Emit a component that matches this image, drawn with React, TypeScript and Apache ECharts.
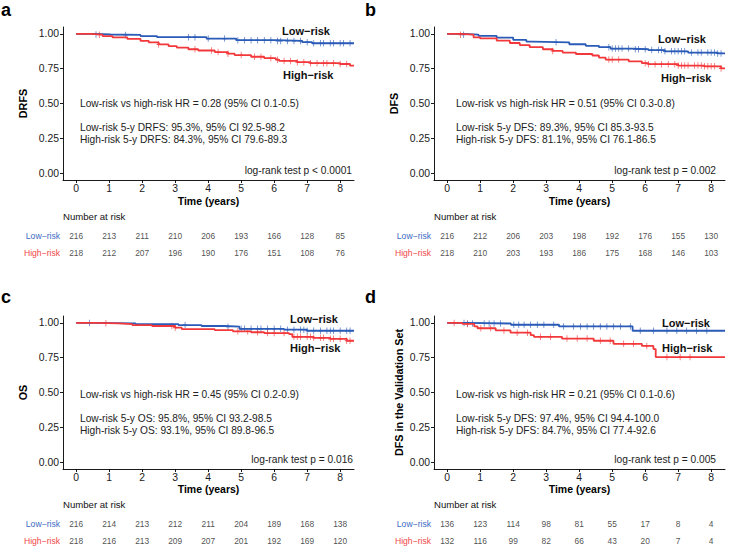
import React, { useEffect, useRef } from "react";
import * as echarts from "echarts";

const BLUE = "#2A5BB7";
const RED = "#F2383A";
const LOW = "Low−risk";
const HIGH = "High−risk";
const FONT = "'Liberation Sans', Arial, Helvetica, sans-serif";

const timeTicks = [0, 1, 2, 3, 4, 5, 6, 7, 8];
const yTicks = [0, 0.25, 0.5, 0.75, 1];

// Panel a (DRFS)
const aLowCurve = [[0, 1], [0.55, 0.996], [1.05, 0.993], [1.95, 0.985], [2.45, 0.977], [3.95, 0.967], [4.85, 0.955], [6.1, 0.95], [6.85, 0.941], [7.15, 0.933], [8.42, 0.933]];
const aHighCurve = [[0, 1], [0.45, 0.995], [0.8, 0.985], [1.1, 0.976], [1.55, 0.964], [1.95, 0.95], [2.2, 0.94], [2.5, 0.925], [2.8, 0.912], [3.05, 0.902], [3.4, 0.89], [3.7, 0.881], [4.2, 0.87], [4.6, 0.858], [4.8, 0.848], [5.3, 0.836], [5.7, 0.826], [6.05, 0.815], [6.15, 0.806], [6.7, 0.797], [7.1, 0.79], [8.0, 0.784], [8.3, 0.772], [8.42, 0.772]];
const aLowCensor = [0.6, 1.5, 3.4, 3.6, 4.0, 4.5, 4.9, 5.1, 5.3, 5.5, 5.7, 5.9, 6.1, 6.2, 6.4, 6.6, 6.8, 7.0, 7.2, 7.4, 7.5, 7.7, 7.8, 8.0, 8.1, 8.3];
const aHighCensor = [0.7, 2.5, 3.6, 4.1, 4.3, 4.6, 5.0, 5.4, 5.6, 5.9, 6.1, 6.3, 6.5, 6.7, 6.9, 7.1, 7.3, 7.5, 7.6, 7.8, 8.0, 8.2];
const aLowRisk = [216, 213, 211, 210, 206, 193, 166, 128, 85];
const aHighRisk = [218, 212, 207, 196, 190, 176, 151, 108, 76];

// Panel b (DFS)
const bLowCurve = [[0, 1], [0.5, 0.995], [0.95, 0.986], [1.5, 0.974], [2.0, 0.957], [2.4, 0.945], [2.6, 0.94], [3.7, 0.926], [4.2, 0.915], [4.6, 0.905], [4.95, 0.895], [5.6, 0.89], [6.1, 0.884], [6.6, 0.875], [7.3, 0.866], [8.2, 0.86], [8.42, 0.86]];
const bHighCurve = [[0, 1], [0.4, 0.995], [0.8, 0.975], [1.0, 0.968], [1.5, 0.952], [1.9, 0.935], [2.2, 0.92], [2.5, 0.905], [2.9, 0.89], [3.2, 0.878], [3.5, 0.866], [3.9, 0.856], [4.4, 0.845], [4.6, 0.83], [4.8, 0.816], [5.5, 0.803], [5.9, 0.79], [6.1, 0.783], [7.0, 0.773], [7.8, 0.767], [8.3, 0.752], [8.42, 0.752]];
const bLowCensor = [0.5, 3.3, 4.9, 5.0, 5.1, 5.2, 5.3, 5.5, 5.7, 5.8, 6.0, 6.2, 6.4, 6.5, 6.6, 6.8, 6.9, 7.0, 7.1, 7.2, 7.4, 7.6, 7.7, 7.9, 8.0, 8.1, 8.2, 8.3];
const bHighCensor = [0.4, 3.2, 4.9, 5.0, 5.2, 6.0, 6.1, 6.3, 6.5, 6.7, 6.9, 7.0, 7.1, 7.2, 7.3, 7.5, 7.6, 7.7, 7.8, 7.9, 8.0, 8.1, 8.3];
const bLowRisk = [216, 212, 206, 203, 198, 192, 176, 155, 130];
const bHighRisk = [218, 210, 203, 193, 186, 175, 168, 146, 103];

// Panel c (OS)
const cLowCurve = [[0, 1], [0.5, 0.997], [1.8, 0.991], [3.1, 0.985], [3.8, 0.978], [4.5, 0.973], [4.95, 0.958], [6.3, 0.952], [7.0, 0.944], [8.42, 0.944]];
const cHighCurve = [[0, 1], [0.6, 0.997], [1.3, 0.992], [1.7, 0.985], [2.3, 0.978], [3.0, 0.966], [3.2, 0.955], [4.2, 0.948], [4.75, 0.94], [5.3, 0.933], [5.7, 0.927], [6.45, 0.92], [6.55, 0.9], [7.2, 0.893], [7.7, 0.886], [8.2, 0.872], [8.42, 0.872]];
const cLowCensor = [0.4, 3.3, 4.6, 5.0, 5.1, 5.3, 5.5, 5.6, 5.8, 6.0, 6.2, 6.4, 6.6, 6.8, 6.9, 7.0, 7.2, 7.4, 7.6, 7.7, 7.8, 8.0, 8.2, 8.3];
const cHighCensor = [0.9, 2.9, 3.0, 4.9, 5.2, 5.5, 5.8, 6.0, 6.3, 6.6, 6.7, 6.8, 7.0, 7.1, 7.2, 7.4, 7.5, 7.7, 7.8, 8.0, 8.2, 8.3];
const cLowRisk = [216, 214, 213, 212, 211, 204, 189, 168, 138];
const cHighRisk = [218, 216, 213, 209, 207, 201, 192, 169, 120];

// Panel d (DFS, validation set)
const dLowCurve = [[0, 1], [0.6, 0.996], [1.93, 0.987], [3.39, 0.975], [5.62, 0.944], [8.42, 0.944]];
const dHighCurve = [[0, 1], [0.46, 0.993], [0.82, 0.975], [0.92, 0.962], [1.47, 0.946], [1.92, 0.93], [2.53, 0.912], [2.63, 0.9], [3.48, 0.888], [4.44, 0.872], [5.04, 0.85], [5.9, 0.835], [6.25, 0.812], [6.32, 0.755], [8.42, 0.755]];
const dLowCensor = [0.51, 0.61, 0.77, 1.12, 1.27, 1.42, 1.62, 2.02, 2.17, 2.33, 2.53, 2.73, 2.93, 3.23, 3.53, 3.83, 4.04, 4.24, 4.44, 4.64, 4.84, 5.04, 5.25, 5.55, 5.85, 6.25, 6.66, 6.96, 7.26, 7.56, 7.87];
const dHighCensor = [0.21, 0.61, 1.02, 1.32, 1.72, 2.12, 2.43, 2.83, 3.13, 3.63, 3.94, 4.24, 4.64, 4.94, 5.35, 5.65, 6.05, 6.66, 7.06, 7.36];
const dLowRisk = [136, 123, 114, 98, 81, 55, 17, 8, 4];
const dHighRisk = [132, 116, 99, 82, 66, 43, 20, 7, 4];

const PLUS = "path://M-0.18,-1H0.18V-0.18H1V0.18H0.18V1H-0.18V0.18H-1V-0.18H-0.18Z";

function stepValue(curve: number[][], t: number) {
  let v = curve[0][1];
  for (const [x, y] of curve) {
    if (x <= t) v = y;
    else break;
  }
  return v;
}

const panels = [
  { left: 63, top: 27, tableTop: 227.5, yName: "DRFS", yGap: 35, low: aLowCurve, high: aHighCurve, lowC: aLowCensor, highC: aHighCensor, lowR: aLowRisk, highR: aHighRisk },
  { left: 434, top: 27, tableTop: 227.5, yName: "DFS", yGap: 35, low: bLowCurve, high: bHighCurve, lowC: bLowCensor, highC: bHighCensor, lowR: bLowRisk, highR: bHighRisk },
  { left: 63, top: 316, tableTop: 515.5, yName: "OS", yGap: 35, low: cLowCurve, high: cHighCurve, lowC: cLowCensor, highC: cHighCensor, lowR: cLowRisk, highR: cHighRisk },
  { left: 434, top: 316, tableTop: 515.5, yName: "DFS in the Validation Set", yGap: 30, low: dLowCurve, high: dHighCurve, lowC: dLowCensor, highC: dHighCensor, lowR: dLowRisk, highR: dHighRisk },
];

function txt(x: number, y: number, text: string, o: any = {}) {
  return {
    type: "text",
    x,
    y,
    silent: true,
    style: {
      text,
      fill: o.fill || "#222",
      fontSize: o.size || 10.2,
      fontWeight: o.bold ? "bold" : "normal",
      fontFamily: FONT,
      align: o.align || "left",
      textAlign: o.align || "left",
      verticalAlign: "middle",
      textVerticalAlign: "middle",
    },
  };
}

const annotations = [
  txt(1, 10, "a", { size: 18, bold: true, fill: "#000" }),
  txt(365, 10, "b", { size: 18, bold: true, fill: "#000" }),
  txt(1, 297, "c", { size: 18, bold: true, fill: "#000" }),
  txt(365, 297, "d", { size: 18, bold: true, fill: "#000" }),
  // a
  txt(80, 103, "Low-risk vs high-risk HR = 0.28 (95% CI 0.1-0.5)"),
  txt(80, 127, "Low-risk 5-y DRFS: 95.3%, 95% CI 92.5-98.2"),
  txt(80, 139, "High-risk 5-y DRFS: 84.3%, 95% CI 79.6-89.3"),
  txt(352, 170, "log-rank test p < 0.0001", { align: "right" }),
  txt(282, 31, LOW, { bold: true, size: 11, fill: "#111" }),
  txt(283, 75, HIGH, { bold: true, size: 11, fill: "#111" }),
  txt(63, 216, "Number at risk", { size: 9.6, fill: "#111" }),
  // b
  txt(456, 103, "Low-risk vs high-risk HR = 0.51 (95% CI 0.3-0.8)"),
  txt(456, 127, "Low-risk 5-y DFS: 89.3%, 95% CI 85.3-93.5"),
  txt(456, 139, "High-risk 5-y DFS: 81.1%, 95% CI 76.1-86.5"),
  txt(716, 170, "log-rank test p = 0.002", { align: "right" }),
  txt(658, 39, LOW, { bold: true, size: 11, fill: "#111" }),
  txt(661, 78, HIGH, { bold: true, size: 11, fill: "#111" }),
  txt(434, 216, "Number at risk", { size: 9.6, fill: "#111" }),
  // c
  txt(80, 394, "Low-risk vs high-risk HR = 0.45 (95% CI 0.2-0.9)"),
  txt(80, 418, "Low-risk 5-y OS: 95.8%, 95% CI 93.2-98.5"),
  txt(80, 430, "High-risk 5-y OS: 93.1%, 95% CI 89.8-96.5"),
  txt(353, 459, "log-rank test p = 0.016", { align: "right" }),
  txt(290, 319, LOW, { bold: true, size: 11, fill: "#111" }),
  txt(290, 348, HIGH, { bold: true, size: 11, fill: "#111" }),
  txt(63, 504, "Number at risk", { size: 9.6, fill: "#111" }),
  // d
  txt(456, 394, "Low-risk vs high-risk HR = 0.21 (95% CI 0.1-0.6)"),
  txt(456, 418, "Low-risk 5-y DFS: 97.4%, 95% CI 94.4-100.0"),
  txt(456, 430, "High-risk 5-y DFS: 84.7%, 95% CI 77.4-92.6"),
  txt(716, 459, "log-rank test p = 0.005", { align: "right" }),
  txt(662, 323, LOW, { bold: true, size: 11, fill: "#111" }),
  txt(662, 348, HIGH, { bold: true, size: 11, fill: "#111" }),
  txt(434, 504, "Number at risk", { size: 9.6, fill: "#111" }),
];

function buildOption() {
  const grid: any[] = [];
  const xAxis: any[] = [];
  const yAxis: any[] = [];
  const series: any[] = [];
  const axisLineStyle = { color: "#000", width: 0.9 };

  panels.forEach((p, i) => {
    grid.push({ left: p.left, top: p.top, width: 291, height: 153 });
    xAxis.push({
      gridIndex: i,
      type: "value",
      min: -0.4,
      max: 8.42,
      axisLine: { show: true, onZero: false, lineStyle: axisLineStyle },
      axisTick: { show: true, length: 3, customValues: timeTicks, lineStyle: axisLineStyle },
      axisLabel: { customValues: timeTicks, margin: 3, fontSize: 10.4, color: "#1a1a1a", fontFamily: FONT },
      splitLine: { show: false },
      name: "Time (years)",
      nameLocation: "middle",
      nameGap: i < 2 ? 15 : 14,
      nameTextStyle: { fontWeight: "bold", fontSize: 10.5, color: "#000", fontFamily: FONT },
    });
    yAxis.push({
      gridIndex: i,
      type: "value",
      min: -0.05,
      max: 1.05,
      axisLine: { show: true, onZero: false, lineStyle: axisLineStyle },
      axisTick: { show: true, length: 3, customValues: yTicks, lineStyle: axisLineStyle },
      axisLabel: { customValues: yTicks, margin: 4, fontSize: 10.4, color: "#1a1a1a", fontFamily: FONT, formatter: (v: number) => v.toFixed(2) },
      splitLine: { show: false },
      name: p.yName,
      nameLocation: "middle",
      nameGap: p.yGap,
      nameTextStyle: { fontWeight: "bold", fontSize: 10.8, color: "#000", fontFamily: FONT },
    });
    const mkLine = (data: number[][], color: string) => ({
      type: "line",
      xAxisIndex: i,
      yAxisIndex: i,
      data,
      step: "end",
      showSymbol: false,
      silent: true,
      lineStyle: { color, width: 1.8 },
      itemStyle: { color },
    });
    const mkCensor = (times: number[], curve: number[][], color: string) => ({
      type: "scatter",
      xAxisIndex: i,
      yAxisIndex: i,
      data: times.map((t) => [t, stepValue(curve, t)]),
      symbol: PLUS,
      symbolSize: [4, 6.5],
      silent: true,
      itemStyle: { color, opacity: 0.85 },
    });
    series.push(mkLine(p.low, BLUE), mkLine(p.high, RED), mkCensor(p.lowC, p.low, BLUE), mkCensor(p.highC, p.high, RED));
  });

  panels.forEach((p, i) => {
    const gi = 4 + i;
    grid.push({ left: p.left, top: p.tableTop, width: 291, height: 34 });
    xAxis.push({ gridIndex: gi, type: "value", min: -0.4, max: 8.42, show: false });
    yAxis.push({
      gridIndex: gi,
      type: "category",
      data: [LOW, HIGH],
      inverse: true,
      axisLine: { show: false },
      axisTick: { show: false },
      splitLine: { show: false },
      axisLabel: {
        margin: 3,
        fontSize: 8.6,
        fontFamily: FONT,
        formatter: (v: string) => (v === LOW ? "{l|" + v + "}" : "{h|" + v + "}"),
        rich: {
          l: { color: "#3B6AC4", fontSize: 8.6, fontFamily: FONT },
          h: { color: "#F04848", fontSize: 8.6, fontFamily: FONT },
        },
      },
    });
    const data = [
      ...p.lowR.map((n, k) => [timeTicks[k], 0, n]),
      ...p.highR.map((n, k) => [timeTicks[k], 1, n]),
    ];
    series.push({
      type: "scatter",
      xAxisIndex: gi,
      yAxisIndex: gi,
      data,
      symbolSize: 1,
      silent: true,
      itemStyle: { color: "transparent" },
      label: {
        show: true,
        position: "inside",
        formatter: (prm: any) => String(prm.value[2]),
        fontSize: 8.4,
        color: "#222",
        fontFamily: FONT,
      },
    });
  });

  return {
    animation: false,
    backgroundColor: "#fff",
    grid,
    xAxis,
    yAxis,
    series,
    graphic: annotations,
  };
}

export default function App() {
  const ref = useRef<HTMLDivElement>(null);
  useEffect(() => {
    document.body.style.margin = "0";
    const chart = echarts.init(ref.current!, null, { renderer: "svg" });
    chart.setOption(buildOption() as any);
    return () => chart.dispose();
  }, []);
  return <div ref={ref} style={{ width: 729, height: 557 }} />;
}
